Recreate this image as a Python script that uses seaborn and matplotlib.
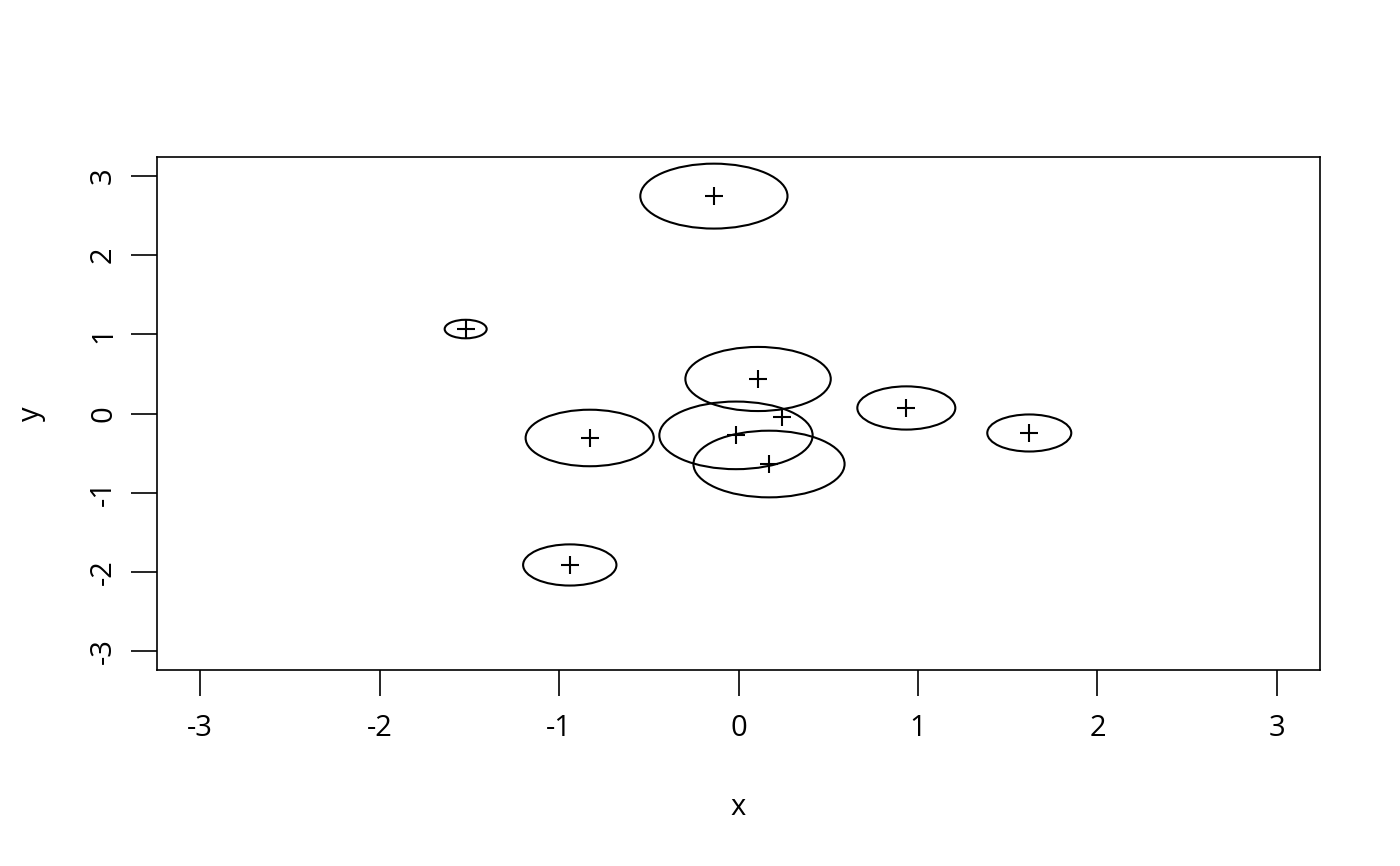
import numpy as np
import pandas as pd
import matplotlib
matplotlib.use('Agg')
import matplotlib.pyplot as plt
from matplotlib.patches import Ellipse
import seaborn as sns

# centres and radii
x_vals = [-0.137, -1.52, 0.109, 0.935, 1.62, -0.829, -0.014, 0.243, 0.17, -0.94]
y_vals = [2.746, 1.067, 0.436, 0.07, -0.246, -0.309, -0.276, -0.044, -0.638, -1.913]
radii = [0.41, 0.117, 0.405, 0.273, 0.234, 0.357, 0.427, 0.0, 0.421, 0.26]

df = pd.DataFrame({"x": x_vals, "y": y_vals, "r": radii})

sns.set_style("white")
plt.rcParams['font.family'] = ['Open Sans', 'DejaVu Sans']
plt.rcParams['axes.unicode_minus'] = False
plt.rcParams['text.color'] = 'black'
plt.rcParams['axes.labelcolor'] = 'black'

fig = plt.figure(figsize=(14, 8.66), dpi=100)
ax = fig.add_axes([0.1121, 0.2263, 0.8308, 0.5924])

sns.scatterplot(data=df, x="x", y="y", marker="+", s=180, color="black",
                linewidth=1.5, ax=ax)

for _, row in df.iterrows():
    if row["r"] > 0:
        ax.add_patch(Ellipse((row["x"], row["y"]), 2 * row["r"], 2 * row["r"],
                             fill=False, edgecolor="black", linewidth=1.5))

ax.set_xlim(-3.24, 3.24)
ax.set_ylim(-3.24, 3.24)
ax.set_xticks(range(-3, 4))
ax.set_yticks(range(-3, 4))
ax.set_xticklabels([str(v) for v in range(-3, 4)], fontsize=21)
ax.set_yticklabels([str(v) for v in range(-3, 4)], rotation=90, va="center",
                   fontsize=21)

for s in ax.spines.values():
    s.set_visible(True)
    s.set_color("black")
    s.set_linewidth(1.2)

ax.tick_params(axis="both", length=19, width=1.2, colors="black",
               direction="out", bottom=True, left=True)
ax.tick_params(axis="x", pad=13)
ax.tick_params(axis="y", pad=9)
ax.set_xlabel("x", fontsize=21, labelpad=36)
ax.set_ylabel("y", fontsize=21, labelpad=31)

plt.savefig("out.png", dpi=100)
